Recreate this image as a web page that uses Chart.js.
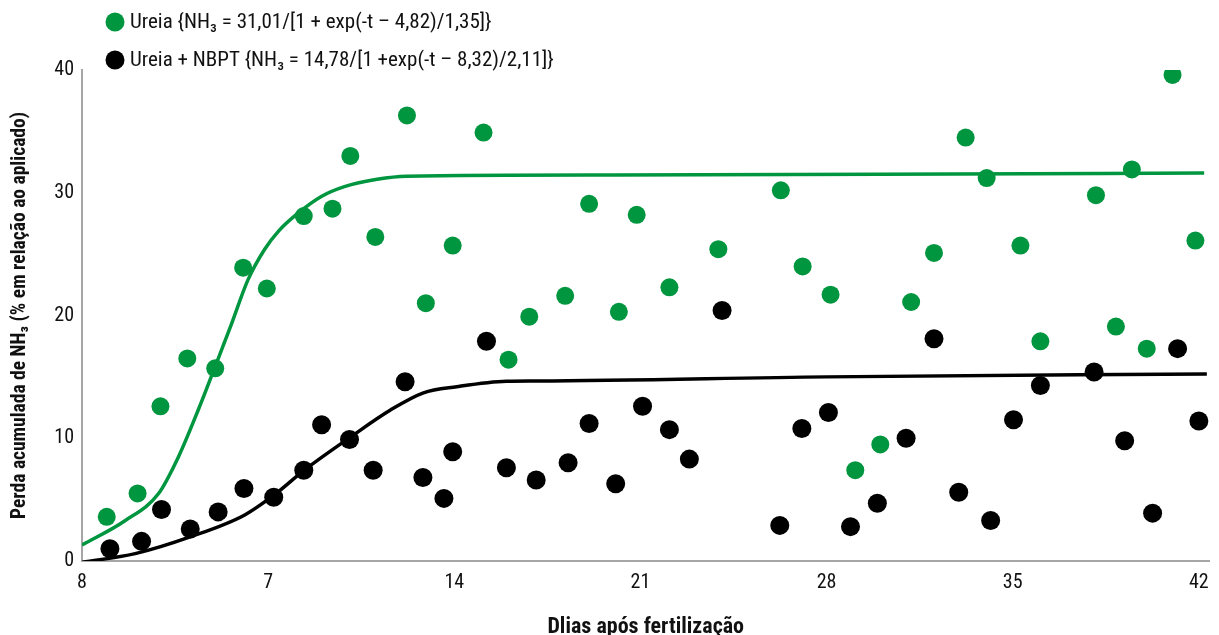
<!DOCTYPE html>
<html>
<head>
<meta charset="utf-8">
<script src="https://cdn.jsdelivr.net/npm/chart.js@4.4.1/dist/chart.umd.min.js"></script>
<style>
  html, body { margin: 0; padding: 0; background: #fff; }
  #wrap { width: 1219px; height: 635px; }
</style>
</head>
<body>
<div id="wrap"><canvas id="nh3Chart" width="1219" height="635"></canvas></div>
<script>
// data (days after fertilization, % of applied N lost as NH3)
var ureiaDias = [0.93, 2.09, 2.95, 3.96, 5.01, 6.06, 6.95, 8.34, 9.42, 10.09, 11.03, 12.22, 12.93, 13.94, 15.1, 16.04, 16.82, 18.17, 19.07, 20.19, 20.86, 22.09, 23.93, 26.28, 27.1, 28.15, 29.08, 30.02, 31.18, 32.04, 33.23, 34.02, 35.29, 36.04, 38.13, 38.88, 39.48, 40.04, 41.01, 41.87];
var ureiaPerda = [3.6, 5.5, 12.6, 16.5, 15.7, 23.9, 22.2, 28.1, 28.7, 33.0, 26.4, 36.3, 21.0, 25.7, 34.9, 16.4, 19.9, 21.6, 29.1, 20.3, 28.2, 22.3, 25.4, 30.2, 24.0, 21.7, 7.4, 9.5, 21.1, 25.1, 34.5, 31.2, 25.7, 17.9, 29.8, 19.1, 31.9, 17.3, 39.6, 26.1];

var nbptDias = [1.05, 2.24, 2.99, 4.07, 5.12, 6.09, 7.21, 8.34, 9.01, 10.06, 10.95, 12.15, 12.82, 13.61, 13.94, 15.21, 15.96, 17.08, 18.28, 19.07, 20.07, 21.08, 22.09, 22.84, 24.07, 26.24, 27.07, 28.07, 28.9, 29.91, 30.99, 32.04, 32.97, 34.17, 35.03, 36.04, 38.06, 39.21, 40.26, 41.2, 42.0];
var nbptPerda = [1.0, 1.6, 4.2, 2.6, 4.0, 5.9, 5.2, 7.4, 11.1, 9.9, 7.4, 14.6, 6.8, 5.1, 8.9, 17.9, 7.6, 6.6, 8.0, 11.2, 6.3, 12.6, 10.7, 8.3, 20.4, 2.9, 10.8, 12.1, 2.8, 4.7, 10.0, 18.1, 5.6, 3.3, 11.5, 14.3, 15.4, 9.8, 3.9, 17.3, 11.4];

// fitted curves
var ajusteUreiaDias = [0, 1.63, 2.88, 3.63, 4.37, 5.0, 5.62, 6.24, 6.87, 7.4, 8.1, 9.0, 9.87, 11.1, 12.2, 20, 30, 42.2];
var ajusteUreiaPerda = [1.3, 3.3, 5.5, 8.5, 12.3, 15.8, 19.3, 22.9, 25.4, 26.9, 28.3, 29.7, 30.5, 31.1, 31.35, 31.45, 31.5, 31.6];
var ajusteNbptDias = [0, 2.0, 4.12, 6.12, 7.24, 8.36, 10.1, 11.6, 12.84, 14.09, 15.96, 17.1, 28, 42.3];
var ajusteNbptPerda = [-0.1, 0.6, 2.0, 3.75, 5.4, 7.4, 10.1, 12.3, 13.7, 14.2, 14.65, 14.67, 15.0, 15.24];

var xTicks = [0, 7, 14, 21, 28, 35, 42];
var xTickLabels = ['8', '7', '14', '21', '28', '35', '42'];
var yTicks = [0, 10, 20, 30, 40];

var legendNames = [
  'Ureia {NH\u2083 = 31,01/[1 + exp(-t \u2013 4,82)/1,35]}',
  'Ureia + NBPT {NH\u2083 = 14,78/[1 +exp(-t \u2013 8,32)/2,11]}'
];

var verde = '#00963f';
var preto = '#000000';
var fonte = '"Roboto Condensed", "Liberation Sans Narrow", sans-serif';

function pares(xs, ys) {
  return xs.map(function (x, i) { return { x: x, y: ys[i] }; });
}

// legend drawn at the top left, one entry per line
var legendaTopo = {
  id: 'legendaTopo',
  afterDraw: function (chart) {
    var c = chart.ctx;
    var cores = [verde, preto];
    c.save();
    c.font = '21px ' + fonte;
    c.textBaseline = 'middle';
    for (var i = 0; i < legendNames.length; i++) {
      var y = 22 + i * 38;
      c.beginPath();
      c.arc(115, y, 9.5, 0, Math.PI * 2);
      c.fillStyle = cores[i];
      c.fill();
      c.fillStyle = '#111';
      c.fillText(legendNames[i], 130, y + 1);
    }
    c.restore();
  }
};

var ctx = document.getElementById('nh3Chart').getContext('2d');
new Chart(ctx, {
  type: 'scatter',
  data: {
    datasets: [{
      label: 'ajuste ureia',
      type: 'line',
      data: pares(ajusteUreiaDias, ajusteUreiaPerda),
      borderColor: verde,
      borderWidth: 3.5,
      pointRadius: 0,
      cubicInterpolationMode: 'monotone',
      fill: false,
      order: 3
    },
    {
      label: 'ajuste nbpt',
      type: 'line',
      data: pares(ajusteNbptDias, ajusteNbptPerda),
      borderColor: preto,
      borderWidth: 3.5,
      pointRadius: 0,
      cubicInterpolationMode: 'monotone',
      fill: false,
      order: 4
    },
    {
      label: legendNames[0],
      data: pares(ureiaDias, ureiaPerda),
      backgroundColor: verde,
      borderWidth: 0,
      pointRadius: 9,
      order: 1
    },
    {
      label: legendNames[1],
      data: pares(nbptDias, nbptPerda),
      backgroundColor: preto,
      borderWidth: 0,
      pointRadius: 9.5,
      order: 2
    }]
  },
  options: {
    responsive: false,
    animation: false,
    layout: { padding: { top: 70, right: 1, left: 0, bottom: 0 } },
    plugins: {
      legend: { display: false },
      tooltip: { enabled: false }
    },
    scales: {
      x: {
        type: 'linear',
        min: 0,
        max: 42.4,
        afterBuildTicks: function (s) { s.ticks = xTicks.map(function (v) { return { value: v }; }); },
        afterFit: function (s) { s.height = 74; },
        grid: { display: false, drawTicks: false },
        border: { color: '#a6a6a6', width: 2 },
        ticks: {
          padding: 10,
          maxRotation: 0,
          color: '#111',
          font: { family: fonte, size: 20 },
          callback: function (v) { return xTickLabels[xTicks.indexOf(v)]; }
        },
        title: {
          display: true,
          text: 'Dlias após fertilização',
          color: '#111',
          font: { family: fonte, size: 22, weight: 'bold', lineHeight: 0.7 },
          padding: { top: 0, bottom: 0 }
        }
      },
      y: {
        min: 0,
        max: 40,
        afterBuildTicks: function (s) { s.ticks = yTicks.map(function (v) { return { value: v }; }); },
        afterFit: function (s) { s.width = 82; },
        grid: { display: false, drawTicks: false },
        border: { color: '#a6a6a6', width: 2 },
        ticks: {
          padding: 8,
          color: '#111',
          font: { family: fonte, size: 20 }
        },
        title: {
          display: true,
          text: 'Perda acumulada de NH\u2083 (% em relação ao aplicado)',
          color: '#111',
          font: { family: fonte, size: 19.5, weight: 'bold' },
          padding: { top: 8, bottom: 0 }
        }
      }
    }
  },
  plugins: [legendaTopo]
});
</script>
</body>
</html>
